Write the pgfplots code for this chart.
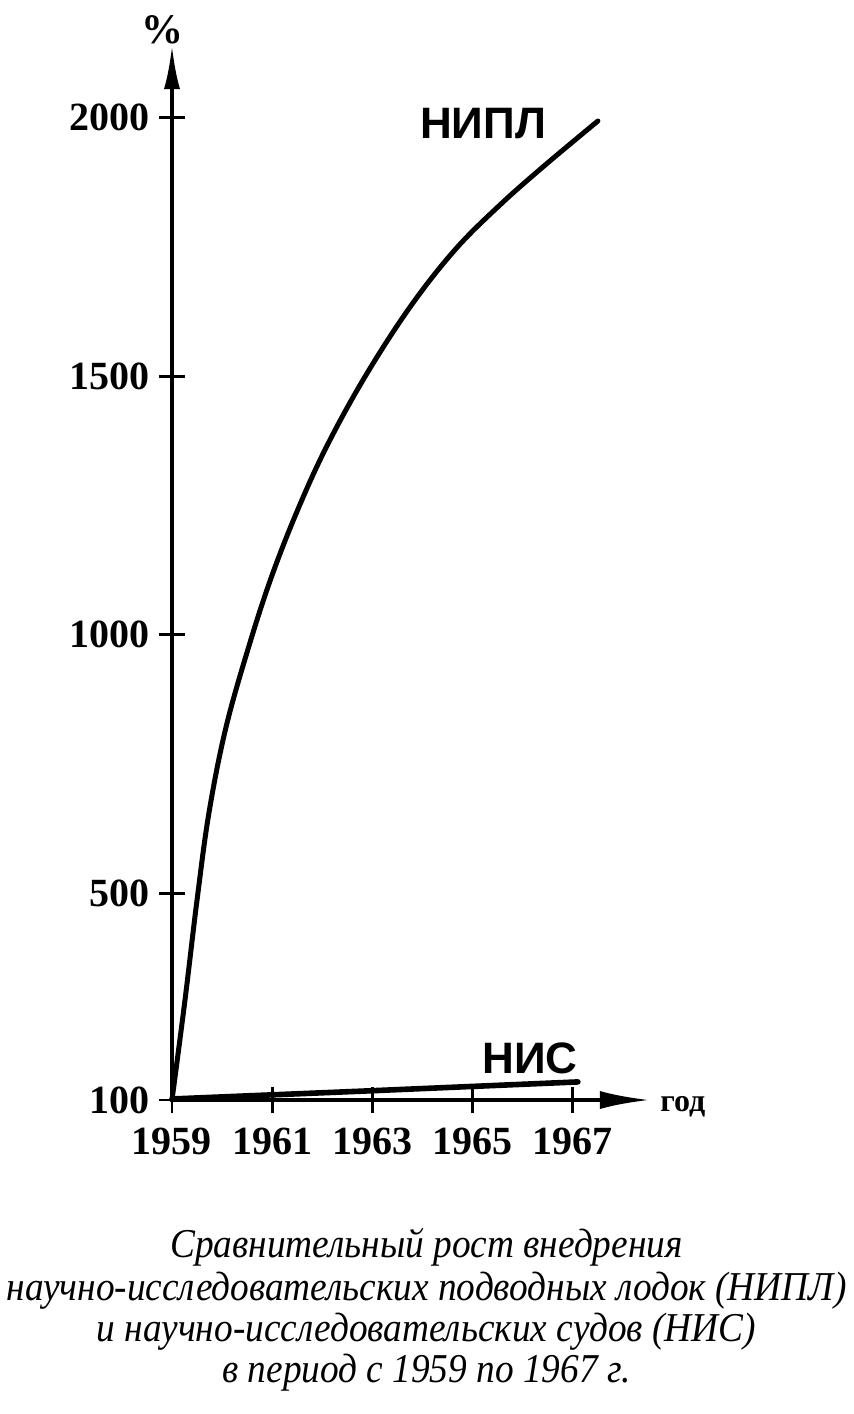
\documentclass[border=0pt]{standalone}
\usepackage{pgfplots}
\pgfplotsset{compat=1.18}
\usepackage{fontspec}
\setmainfont{Liberation Serif}
\newfontfamily\labfont{Liberation Sans}
\newfontfamily\capfont{Liberation Serif}[FakeStretch=0.91]
\usetikzlibrary{arrows.meta}

\begin{document}
\begin{tikzpicture}
% frame of the picture: 1 px of the reference = 0.5pt
\path[use as bounding box] (0,0) rectangle (426.5pt,-707pt);

\begin{axis}[
    at={(86pt,-550pt)}, anchor=south west,
    scale only axis,
    width=239pt, height=527.5pt,
    xmin=1959, xmax=1968.54,
    ymin=100, ymax=2141,
    axis lines=left,
    axis line style={line width=2pt},
    x axis line style={-{Latex[length=25pt,width=9pt]}},
    y axis line style={-{Latex[length=22pt,width=8pt]}},
    xtick={1959,1961,1963,1965,1967},
    ytick={100,500,1000,1500,2000},
    tick align=center,
    major tick length=13pt,
    tick style={line width=1.4pt, black},
    /pgf/number format/1000 sep={},
    /pgf/number format/assume math mode=true,
    ticklabel style={font=\bfseries\fontsize{20}{20}\selectfont},
    xticklabel style={yshift=-4pt},
    yticklabel style={xshift=-1pt},
    clip=false,
]
% NIPL
\addplot[black, line width=2.5pt, smooth, tension=0.6, line cap=round] coordinates {
    (1959,100) (1959.26,294) (1959.50,487) (1959.74,657) (1960.08,822)
    (1960.56,986) (1961.00,1116) (1961.51,1242) (1962.09,1365)
    (1962.85,1499) (1963.75,1634) (1964.65,1745) (1965.55,1832)
    (1966.45,1909) (1967.50,1994)
};
% NIS
\addplot[black, line width=2.8pt, line cap=round] coordinates {
    (1959,102) (1963,118) (1967.1,135)
};
\end{axis}

\begin{scope}[x=0.5pt, y=-0.5pt]
\node[font=\bfseries\fontsize{21}{21}\selectfont] at (162,30) {\%};
\node[font=\labfont\bfseries\fontsize{22}{22}\selectfont] at (483,124) {НИПЛ};
\node[font=\labfont\bfseries\fontsize{22}{22}\selectfont] at (530,1058) {НИС};
\node[font=\bfseries\fontsize{16}{16}\selectfont, anchor=west, inner sep=0pt] at (660,1107) {год};
\begin{scope}[every node/.style={anchor=base, inner sep=0pt, font=\capfont\itshape\fontsize{20.5}{21}\selectfont}]
\node at (426.5,1257) {Сравнительный рост внедрения};
\node at (426.5,1300) {научно-исследовательских подводных лодок (НИПЛ)};
\node at (426.5,1341) {и научно-исследовательских судов (НИС)};
\node at (426.5,1382) {в период с 1959 по 1967 г.};
\end{scope}
\end{scope}
\end{tikzpicture}
\end{document}
